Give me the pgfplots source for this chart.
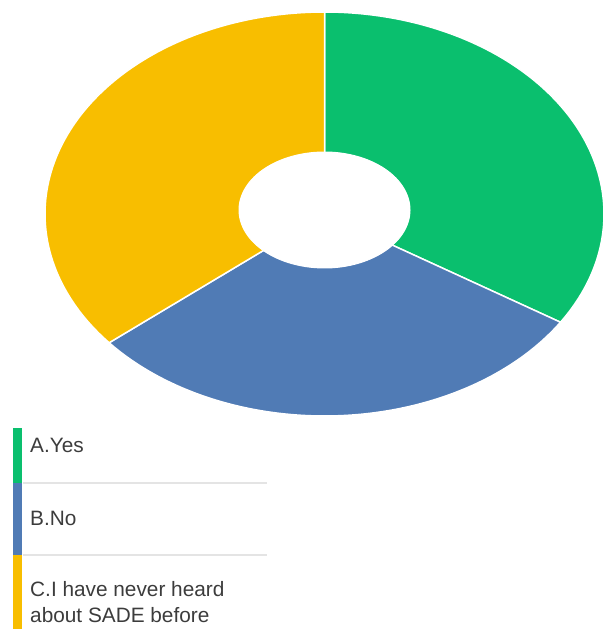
\documentclass[border=0pt]{standalone}
\usepackage{pgfplots}
\pgfplotsset{compat=1.18}
\usepackage{pgfplotstable}
\usepackage{fontspec}
\setmainfont{Liberation Sans}
\definecolor{cgreen}{RGB}{10,191,110}
\definecolor{cblue}{RGB}{80,123,181}
\definecolor{cyellow}{RGB}{248,190,0}
\definecolor{ctext}{RGB}{60,60,60}
\definecolor{csep}{RGB}{228,228,228}

\pgfplotstableread{
label value
Yes 34
No 30
Never 36
}\piedata

\begin{document}
\begin{tikzpicture}
\pgfplotstablegetelem{0}{value}\of\piedata \let\va\pgfplotsretval
\pgfplotstablegetelem{1}{value}\of\piedata \let\vb\pgfplotsretval
\pgfplotstablegetelem{2}{value}\of\piedata \let\vc\pgfplotsretval
\pgfmathsetmacro\tot{\va+\vb+\vc}
\pgfmathsetmacro\aA{90}
\pgfmathsetmacro\aB{\aA-360*\va/\tot}
\pgfmathsetmacro\aC{\aB-360*\vb/\tot}
\pgfmathsetmacro\aD{\aC-360*\vc/\tot}
\begin{axis}[
  scale only axis, width=605pt, height=629pt,
  xmin=0, xmax=605, ymin=0, ymax=629,
  hide axis, clip=false,
]
\coordinate (bl) at (axis cs:0,0);
\coordinate (tr) at (axis cs:605,629);
% slices (outer ellipse centre 324.5,415; radii 279.5 x 202)
\addplot[fill=cgreen, draw=white, line width=1.5pt, domain=\aB:\aA, samples=120, variable=\t]
  ({324.5+279.5*cos(t)},{415+202*sin(t)}) -- (axis cs:324.5,415) -- cycle;
\addplot[fill=cblue, draw=white, line width=1.5pt, domain=\aC:\aB, samples=120, variable=\t]
  ({324.5+279.5*cos(t)},{415+202*sin(t)}) -- (axis cs:324.5,415) -- cycle;
\addplot[fill=cyellow, draw=white, line width=1.5pt, domain=\aD:\aC, samples=120, variable=\t]
  ({324.5+279.5*cos(t)},{415+202*sin(t)}) -- (axis cs:324.5,415) -- cycle;
% hole
\addplot[fill=white, draw=white, line width=1pt, domain=0:360, samples=120, variable=\t]
  ({324.5+85.5*cos(t)},{419+58*sin(t)}) -- cycle;
% legend
\fill[cgreen] (axis cs:13,201) rectangle (axis cs:22,146);
\fill[cblue] (axis cs:13,146) rectangle (axis cs:22,74);
\fill[cyellow] (axis cs:13,74) rectangle (axis cs:22,0);
\draw[csep, line width=1.2pt] (axis cs:23,146) -- (axis cs:267,146);
\draw[csep, line width=1.2pt] (axis cs:23,74) -- (axis cs:267,74);
\node[anchor=base west, inner sep=0pt, text=ctext, font=\fontsize{20.8}{25}\selectfont] at (axis cs:30,176) {A.Yes};
\node[anchor=base west, inner sep=0pt, text=ctext, font=\fontsize{20.8}{25}\selectfont] at (axis cs:30,103) {B.No};
\node[anchor=base west, inner sep=0pt, text=ctext, font=\fontsize{20.8}{25}\selectfont] at (axis cs:30,32) {C.I have never heard};
\node[anchor=base west, inner sep=0pt, text=ctext, font=\fontsize{20.8}{25}\selectfont] at (axis cs:30,6) {about SADE before};
\end{axis}
\pgfresetboundingbox
\path[use as bounding box] (bl) rectangle (tr);
\end{tikzpicture}
\end{document}
